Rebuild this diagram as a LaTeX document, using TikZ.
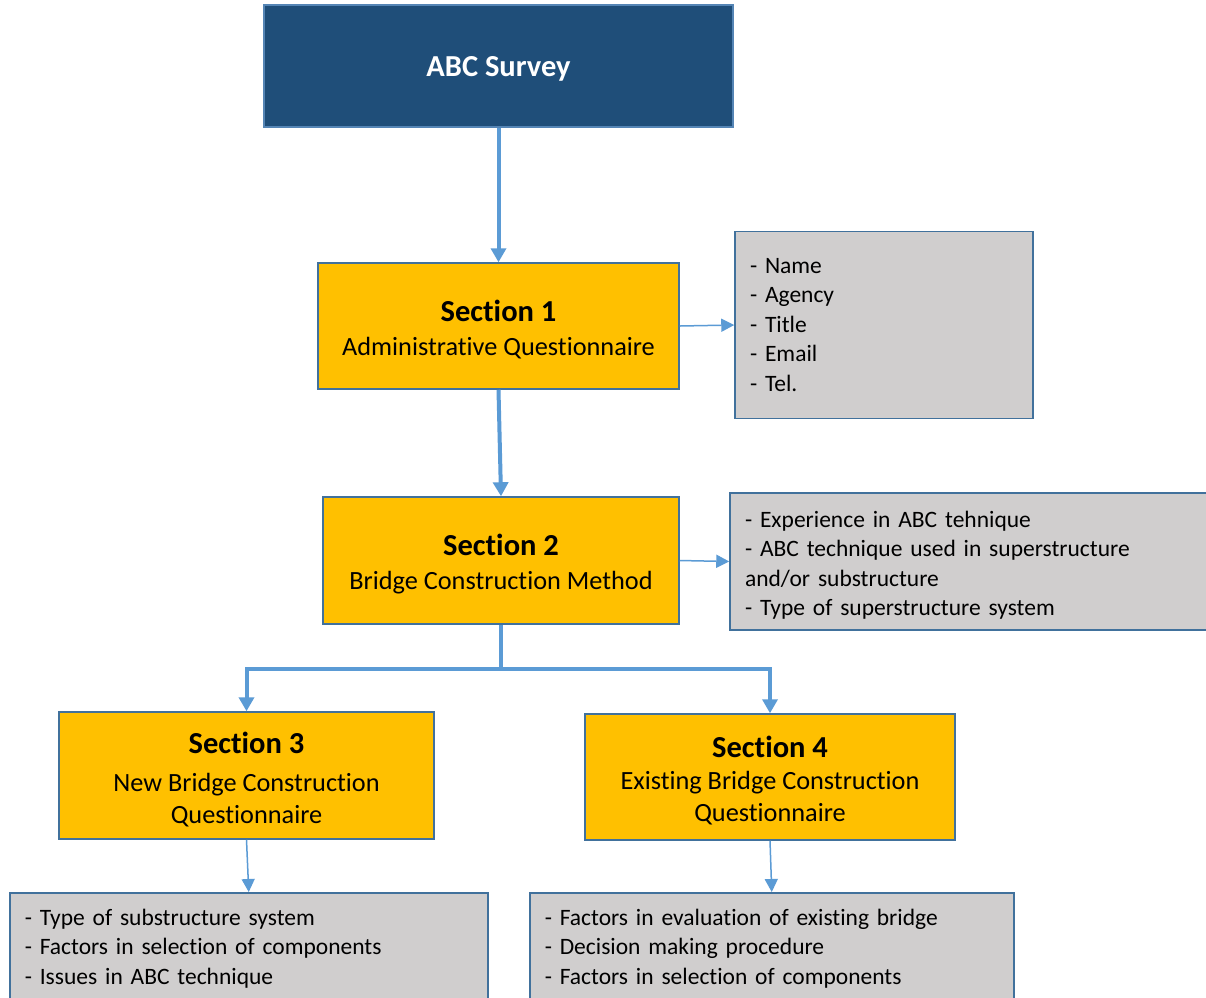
\documentclass[tikz,border=0pt]{standalone}
\usepackage{fontspec}
\setmainfont[Ligatures={NoCommon}]{Carlito}
\usetikzlibrary{arrows.meta}
\definecolor{navy}{HTML}{1F4E79}
\definecolor{navyedge}{HTML}{5585B5}
\definecolor{secfill}{HTML}{FFC000}
\definecolor{boxedge}{HTML}{41719C}
\definecolor{infofill}{HTML}{D0CECE}
\definecolor{linkblue}{HTML}{5B9BD5}
\tikzset{
  topbox/.style={draw=navyedge, fill=navy, line width=1.5pt, text=white,
    font=\bfseries\fontsize{30.5}{36}\selectfont, minimum width=469, minimum height=122,
    inner sep=0, text depth=0pt},
  secbox/.style={draw=boxedge, fill=secfill, line width=1.5pt, align=center,
    font=\fontsize{26.3}{32}\selectfont, inner sep=0},
  infobox/.style={draw=boxedge, fill=infofill, line width=1.5pt, align=left,
    font=\fontsize{23.5}{29.5}\selectfont, inner xsep=15pt, inner ysep=10pt},
  heavylink/.style={draw=linkblue, line width=4pt, -{Triangle[length=14pt,width=15pt]}},
  lightlink/.style={draw=linkblue, line width=1.5pt, -{Triangle[length=13pt,width=13pt]}}
}
\newcommand{\sectitle}[1]{{\bfseries\fontsize{30.5}{34}\selectfont\rule{0pt}{29pt}#1}}
\begin{document}
\begin{tikzpicture}[x=1pt,y=-1pt]
\clip (0,0) rectangle (1206,997);
\fill[white] (0,0) rectangle (1206,997);

\node[topbox] (abc) at (498.5,66) {ABC Survey};

\node[secbox, minimum width=361, minimum height=126] (s1) at (498.5,326)
  {\sectitle{Section 1}\\[2pt] Administrative Questionnaire};

\node[infobox, text width=268, minimum width=298, minimum height=187] (i1) at (884,325)
  {- Name\\- Agency\\- Title\\- Email\\- Tel.};

\node[secbox, minimum width=356, minimum height=127] (s2) at (501,560.5)
  {\sectitle{Section 2}\\[2pt] Bridge Construction Method};

\node[infobox, text width=455, minimum width=485, minimum height=137, inner ysep=8pt] (i2) at (972.5,561.5)
  {\rule{0pt}{24pt}- Experience in ABC tehnique\\- ABC technique used in superstructure\\and/or substructure\\- Type of superstructure system};

\node[secbox, minimum width=375, minimum height=127] (s3) at (246.5,775.5)
  {\sectitle{Section 3}\\[6pt] New Bridge Construction\\ Questionnaire};

\node[secbox, minimum width=370, minimum height=126] (s4) at (770,777)
  {\sectitle{Section 4}\\[0pt] Existing Bridge Construction\\ Questionnaire};

\node[infobox, anchor=north west, text width=448, minimum width=478, inner ysep=16pt] (i3) at (9,892)
  {- Type of substructure system\\- Factors in selection of components\\- Issues in ABC technique};

\node[infobox, anchor=north west, text width=454, minimum width=484, inner ysep=16pt] (i4) at (529,892)
  {- Factors in evaluation of existing bridge\\- Decision making procedure\\- Factors in selection of components};

\draw[heavylink] (abc.south) -- (s1.north);
\draw[heavylink] (s1.south) -- (s2.north);
\draw[lightlink] (s1.east) -- (i1.west);
\draw[lightlink] (s2.east) -- (i2.west);
\draw[draw=linkblue, line width=4pt] (s2.south) -- ++(0,44) coordinate (fork);
\draw[heavylink] (fork) -| (s3.north);
\draw[heavylink] (fork) -| (s4.north);
\draw[lightlink] (s3.south) -- (i3.north);
\draw[lightlink] (s4.south) -- (i4.north);
\end{tikzpicture}
\end{document}
